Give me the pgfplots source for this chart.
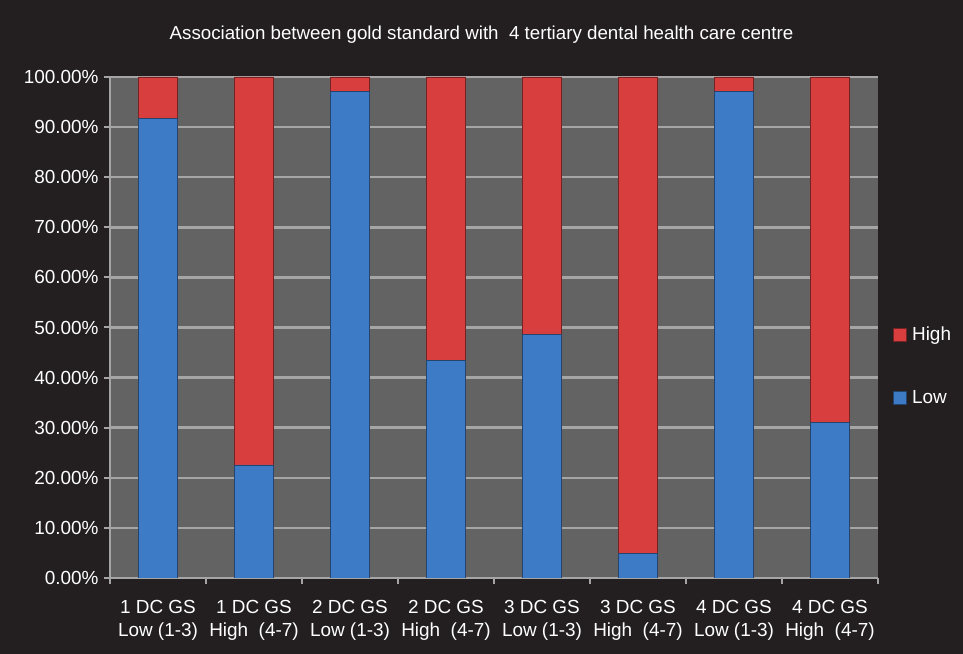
\documentclass[border=0pt]{standalone}
\usepackage{pgfplots}
\pgfplotsset{compat=1.18}
\usepackage{fontspec}
\setmainfont{Liberation Sans}
\definecolor{bg}{HTML}{231F20}
\definecolor{plotbg}{HTML}{636363}
\definecolor{gridc}{HTML}{A5A5A5}
\definecolor{lowblue}{HTML}{3D7BC6}
\definecolor{highred}{HTML}{D93E3E}

\begin{document}
\begin{tikzpicture}
\fill[bg] (0bp,0bp) rectangle (963bp,654bp);
\useasboundingbox (0bp,0bp) rectangle (963bp,654bp);
\node[text=white,font=\fontsize{18.8}{22}\selectfont] at (481.5bp,619bp)
  {Association between gold standard with\ \ 4 tertiary dental health care centre};
\begin{axis}[
  at={(110bp,76bp)}, anchor=south west, scale only axis,
  width=768bp, height=501bp,
  ybar stacked, bar width=39bp,
  xmin=-0.5, xmax=7.5, ymin=0, ymax=100,
  axis background/.style={fill=plotbg},
  axis x line*=bottom, axis y line*=left,
  axis line style={gridc, line width=2.5bp, -},
  ymajorgrids, major grid style={gridc, line width=2.5bp},
  ytick={0,10,...,100},
  yticklabel={\pgfmathprintnumber[fixed,fixed zerofill,precision=2]{\tick}\%},
  /pgf/number format/assume math mode=true,
  xtick=data,
  xticklabels={{1 DC GS\\Low (1-3)},{1 DC GS\\High\ \ (4-7)},
    {2 DC GS\\Low (1-3)},{2 DC GS\\High\ \ (4-7)},
    {3 DC GS\\Low (1-3)},{3 DC GS\\High\ \ (4-7)},
    {4 DC GS\\Low (1-3)},{4 DC GS\\High\ \ (4-7)}},
  minor xtick={-0.5,0.5,...,7.5},
  tick align=outside, major tick length=6bp, minor tick length=6bp,
  major x tick style={draw=none},
  minor x tick style={gridc, line width=2bp},
  ytick style={gridc, line width=2bp},
  ticklabel style={text=white, font=\fontsize{19}{23}\selectfont},
  xticklabel style={align=center, yshift=-13bp},
  yticklabel style={xshift=-2bp},
  reverse legend,
  legend style={at={(1.015,0.423)}, anchor=west, draw=none, fill=none,
    text=white, font=\fontsize{19}{22}\selectfont, row sep=44bp,
    nodes={inner xsep=6bp}},
  legend cell align=left,
  legend image code/.code={\fill[#1] (0bp,-6.5bp) rectangle (13bp,6.5bp);},
]
\addplot[fill=lowblue, draw=lowblue!55!black]
  coordinates {(0,91.7) (1,22.6) (2,97.1) (3,43.5) (4,48.6) (5,4.9) (6,97.1) (7,31.1)};
\addlegendentry{Low}
\addplot[fill=highred, draw=highred!55!black]
  coordinates {(0,8.3) (1,77.4) (2,2.9) (3,56.5) (4,51.4) (5,95.1) (6,2.9) (7,68.9)};
\addlegendentry{High}
\end{axis}
\end{tikzpicture}
\end{document}
